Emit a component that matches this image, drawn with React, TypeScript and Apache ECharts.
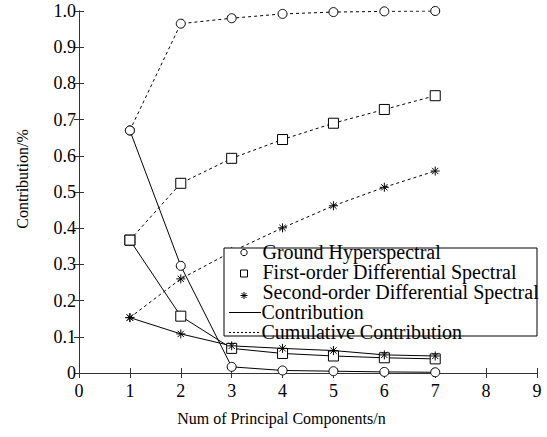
import React, { useEffect, useRef } from "react";
import * as echarts from "echarts";

const components = [1, 2, 3, 4, 5, 6, 7];
const groundContribution = [0.670, 0.296, 0.017, 0.007, 0.005, 0.003, 0.002];
const groundCumulative = [0.670, 0.965, 0.980, 0.992, 0.997, 0.999, 1.0];
const firstContribution = [0.367, 0.157, 0.068, 0.054, 0.047, 0.042, 0.039];
const firstCumulative = [0.367, 0.524, 0.593, 0.645, 0.690, 0.728, 0.766];
const secondContribution = [0.153, 0.108, 0.075, 0.068, 0.062, 0.050, 0.047];
const secondCumulative = [0.153, 0.260, 0.335, 0.401, 0.462, 0.513, 0.558];
const legendNames = [
  "Ground Hyperspectral",
  "First-order Differential Spectral",
  "Second-order Differential Spectral",
  "Contribution",
  "Cumulative Contribution",
];

const FONT = "Liberation Serif";
const STAR = "path://M5 0L5 10M0 5L10 5M1.5 1.5L8.5 8.5M8.5 1.5L1.5 8.5";

function pairs(vals: number[]) {
  return components.map((c, i) => [c, vals[i]]);
}

export default function App() {
  const ref = useRef<HTMLDivElement>(null);
  useEffect(() => {
    const chart = echarts.init(ref.current!, null, { renderer: "svg" });
    const mk = (name: string, data: number[], symbol: string, dashed: boolean, size: number) => ({
      type: "line",
      name,
      data: pairs(data),
      symbol,
      symbolSize: size,
      showSymbol: true,
      lineStyle: { color: "#000", width: 1, type: dashed ? [3, 3] : "solid" },
      itemStyle: { color: symbol === STAR ? "none" : "#fff", borderColor: "#000", borderWidth: 1 },
      z: 2,
    });
    const ly = 248, rowH = 20, mx = 244;
    const legendGraphics: any[] = [
      { type: "rect", shape: { x: 224, y: ly, width: 313, height: 88 }, style: { fill: "#fff", stroke: "#000", lineWidth: 1 }, z: 10 },
      { type: "circle", shape: { cx: mx, cy: ly + 4.5, r: 3.2 }, style: { fill: "none", stroke: "#000", lineWidth: 1 }, z: 11 },
      { type: "rect", shape: { x: mx - 3.5, y: ly + 22, width: 7, height: 7 }, style: { fill: "none", stroke: "#000", lineWidth: 1 }, z: 11 },
      { type: "line", shape: { x1: mx, y1: ly + 44, x2: mx, y2: ly + 51 }, style: { stroke: "#000", lineWidth: 1 }, z: 11 },
      { type: "line", shape: { x1: mx - 3.5, y1: ly + 47.5, x2: mx + 3.5, y2: ly + 47.5 }, style: { stroke: "#000", lineWidth: 1 }, z: 11 },
      { type: "line", shape: { x1: mx - 2.5, y1: ly + 45, x2: mx + 2.5, y2: ly + 50 }, style: { stroke: "#000", lineWidth: 1 }, z: 11 },
      { type: "line", shape: { x1: mx + 2.5, y1: ly + 45, x2: mx - 2.5, y2: ly + 50 }, style: { stroke: "#000", lineWidth: 1 }, z: 11 },
      { type: "line", shape: { x1: 229, y1: 312.5, x2: 261, y2: 312.5 }, style: { stroke: "#000", lineWidth: 1 }, z: 11 },
      { type: "line", shape: { x1: 229, y1: 332.5, x2: 261, y2: 332.5 }, style: { stroke: "#000", lineWidth: 1, lineDash: [2, 2] }, z: 11 },
    ];
    legendNames.forEach((n, i) => {
      legendGraphics.push({
        type: "text",
        x: i >= 3 ? 261.5 : 262.5,
        y: 252 + i * rowH,
        style: { text: n, fontFamily: FONT, fontSize: 20, lineHeight: 20, fill: "#000", verticalAlign: "middle", align: "left" },
        z: 11,
      });
    });
    chart.setOption({
      animation: false,
      backgroundColor: "#fff",
      grid: { left: 79, right: 10, top: 11, bottom: 64 },
      xAxis: [
        {
          type: "value", min: 0, max: 9, interval: 1,
          name: "Num of Principal Components/n", nameLocation: "middle", nameGap: 37,
          nameTextStyle: { fontFamily: FONT, fontSize: 16, color: "#000", padding: [0, 53, 0, 0] },
          axisLine: { lineStyle: { color: "#333", width: 1 } },
          axisTick: { inside: true, length: 5, lineStyle: { color: "#333" } },
          axisLabel: { fontFamily: FONT, fontSize: 18, color: "#000", margin: 9 },
          splitLine: { show: false },
        },
        {
          type: "value", min: 0, max: 9, interval: 1, position: "top",
          axisLine: { show: true, lineStyle: { color: "#333", width: 1 } },
          axisTick: { inside: true, length: 5, lineStyle: { color: "#333" } },
          axisLabel: { show: false }, splitLine: { show: false },
        },
      ],
      yAxis: [
        {
          type: "value", min: 0, max: 1, interval: 0.1,
          name: "Contribution/%", nameLocation: "middle", nameGap: 49,
          nameTextStyle: { fontFamily: FONT, fontSize: 16, color: "#000", padding: [0, 0, 0, 26] },
          axisLine: { show: true, lineStyle: { color: "#333", width: 1 } },
          axisTick: { inside: true, length: 5, lineStyle: { color: "#333" } },
          axisLabel: {
            fontFamily: FONT, fontSize: 18, color: "#000", margin: 3,
            formatter: (v: number) => (v === 0 ? "0" : v.toFixed(1)),
          },
          splitLine: { show: false },
        },
        {
          type: "value", min: 0, max: 1, interval: 0.1, position: "right",
          axisLine: { show: true, lineStyle: { color: "#333", width: 1 } },
          axisTick: { inside: true, length: 5, lineStyle: { color: "#333" } },
          axisLabel: { show: false }, splitLine: { show: false },
        },
      ],
      series: [
        mk("Ground Hyperspectral Contribution", groundContribution, "circle", false, 9),
        mk("Ground Hyperspectral Cumulative", groundCumulative, "circle", true, 9),
        mk("First-order Contribution", firstContribution, "rect", false, 10),
        mk("First-order Cumulative", firstCumulative, "rect", true, 10),
        mk("Second-order Contribution", secondContribution, STAR, false, 9),
        mk("Second-order Cumulative", secondCumulative, STAR, true, 9),
      ],
      graphic: legendGraphics,
    });
    return () => chart.dispose();
  }, []);
  return <div ref={ref} style={{ position: "fixed", left: 0, top: 0, width: 547, height: 437 }} />;
}
